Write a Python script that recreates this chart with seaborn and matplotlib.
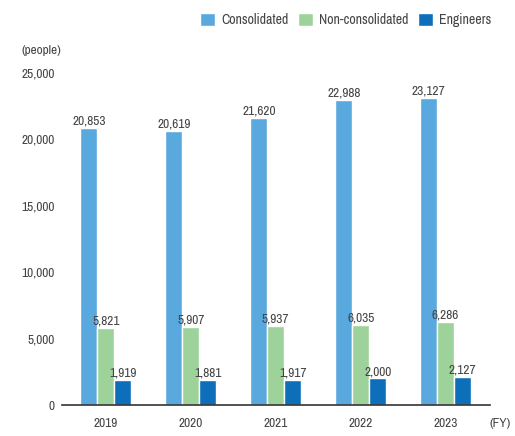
import matplotlib
matplotlib.use("Agg")
import matplotlib.pyplot as plt
from matplotlib import font_manager
import seaborn as sns
import pandas as pd

years = ["2019", "2020", "2021", "2022", "2023"]
consolidated = [20853, 20619, 21620, 22988, 23127]
non_consolidated = [5821, 5907, 5937, 6035, 6286]
engineers = [1919, 1881, 1917, 2000, 2127]
series_names = ["Consolidated", "Non-consolidated", "Engineers"]
colors = ["#5aa9de", "#9dd39a", "#0d6fba"]

sns.set_theme(style="white")

# prefer a condensed sans face when one is installed
narrow = [f for f in font_manager.fontManager.ttflist
          if ("narrow" in f.fname.lower() or "condensed" in f.fname.lower())
          and "bold" not in f.fname.lower() and "oblique" not in f.fname.lower()
          and "italic" not in f.fname.lower()]
if narrow:
    pick = sorted(narrow, key=lambda f: ("Noto" not in f.name, "Open" not in f.name, f.name))[0]
    plt.rcParams["font.family"] = [pick.name, "DejaVu Sans"]
    plt.rcParams["font.stretch"] = pick.stretch
    cond = True
else:
    plt.rcParams["font.family"] = ["Liberation Sans", "DejaVu Sans"]
    cond = False

rows = []
for name, vals in zip(series_names, [consolidated, non_consolidated, engineers]):
    for y, v in zip(years, vals):
        rows.append({"year": y, "series": name, "value": v})
df = pd.DataFrame(rows)

fig = plt.figure(figsize=(5.15, 4.36), dpi=100)
ax = fig.add_axes([0.12, 0.071, 0.831, 0.762])

sns.barplot(data=df, x="year", y="value", hue="series", hue_order=series_names,
            palette=colors, width=0.6, gap=0, saturation=1, ax=ax, legend=True)

fs = 9.6 if cond else 8.3
text_color = "#444444"
for cont in ax.containers:
    ax.bar_label(cont, labels=[f"{v:,.0f}" for v in cont.datavalues],
                 padding=1, fontsize=fs, color=text_color)

ticks = [0, 5000, 10000, 15000, 20000, 25000]
ax.set_ylim(0, 25000)
ax.set_xlim(-0.52, 4.52)
ax.set_yticks(ticks)
ax.set_yticklabels([f"{t:,}" for t in ticks])
ax.set_xlabel("")
ax.set_ylabel("")
ax.tick_params(axis="both", length=0, labelsize=fs, colors=text_color, pad=5)
ax.tick_params(axis="x", pad=9)
for s in ["top", "right", "left"]:
    ax.spines[s].set_visible(False)
ax.spines["bottom"].set_color("#333333")
ax.spines["bottom"].set_linewidth(1.2)

fig.text(22 / 515, 1 - 50 / 436, "(people)", fontsize=fs, color=text_color, va="center", ha="left")
fig.text(490 / 515, 1 - 423 / 436, "(FY)", fontsize=fs, color=text_color, va="center", ha="left")

handles, labels = ax.get_legend_handles_labels()
ax.legend(handles, labels, loc="center right", bbox_to_anchor=(491 / 515, 1 - 20 / 436),
          bbox_transform=fig.transFigure, ncol=3, frameon=False, fontsize=fs + 0.4,
          handlelength=1.1, handleheight=1.1, handletextpad=0.4, columnspacing=0.7,
          labelcolor=text_color, borderaxespad=0, borderpad=0)

fig.savefig("out.png", dpi=100)
